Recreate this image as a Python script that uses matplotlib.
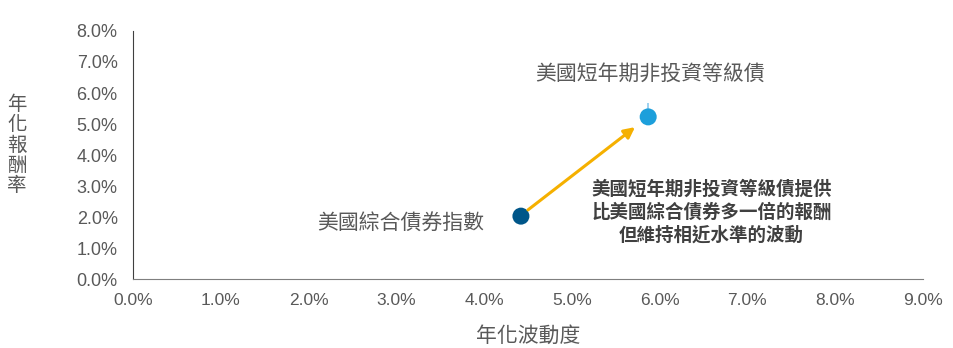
import matplotlib.pyplot as plt
from matplotlib.ticker import FuncFormatter

plt.rcParams['font.family'] = ['Liberation Sans', 'Noto Sans CJK TC', 'DejaVu Sans']

# annualised volatility / return, in %
names = ['美國綜合債券指數', '美國短年期非投資等級債']
vol = [4.42, 5.87]
ret = [2.03, 5.23]
colors = ['#005689', '#1d9fdb']
note = '美國短年期非投資等級債提供\n比美國綜合債券多一倍的報酬\n但維持相近水準的波動'

gray = '#595959'
cjk = ['Noto Sans CJK TC', 'DejaVu Sans']

fig = plt.figure(figsize=(9.54, 3.48), dpi=100)
ax = fig.add_axes([0.1394, 0.198, 0.828, 0.713])

ax.scatter(vol, ret, s=150, c=colors, zorder=3, linewidths=0)
# small upper error tick on the high-yield point
ax.errorbar(vol[1], ret[1], yerr=[[0], [0.45]], fmt='none',
            ecolor='#8cc9ec', elinewidth=1.2, capsize=0, zorder=2)

ax.annotate('', xy=(vol[1] - 0.15, ret[1] - 0.33), xytext=(vol[0] + 0.08, ret[0] + 0.2),
            arrowprops=dict(arrowstyle='-|>', color='#f5b000', lw=2.2,
                            mutation_scale=16, shrinkA=0, shrinkB=0))

ax.text(vol[0] - 0.42, ret[0] - 0.22, names[0], ha='right', va='center',
        fontsize=15, color=gray, family=cjk)
ax.text(vol[1] + 0.02, ret[1] + 1.4, names[1], ha='center', va='center',
        fontsize=15, color=gray, family=cjk)
ax.text(6.59, 2.16, note, ha='center', va='center', fontsize=13.3,
        fontweight='bold', color='#404040', family=cjk, linespacing=1.25)

ax.set_xlim(0, 9)
ax.set_ylim(0, 8)
ax.set_xticks(range(0, 10))
ax.set_yticks(range(0, 9))
pct = FuncFormatter(lambda v, p: f'{v:.1f}%')
ax.xaxis.set_major_formatter(pct)
ax.yaxis.set_major_formatter(pct)
ax.tick_params(length=0, labelsize=12.5, colors=gray, pad=10)
ax.tick_params(axis='y', labelsize=13, pad=11)

for s in ['top', 'right']:
    ax.spines[s].set_visible(False)
ax.spines['left'].set_color('#404040')
ax.spines['bottom'].set_color('#7f7f7f')

ax.set_xlabel('年化波動度', fontsize=15, color=gray, family=cjk, labelpad=12)
fig.text(0.018, 0.583, '年\n化\n報\n酬\n率', ha='center', va='center',
         fontsize=14, color=gray, family=cjk, linespacing=0.95)

fig.savefig('out.png', dpi=100)
